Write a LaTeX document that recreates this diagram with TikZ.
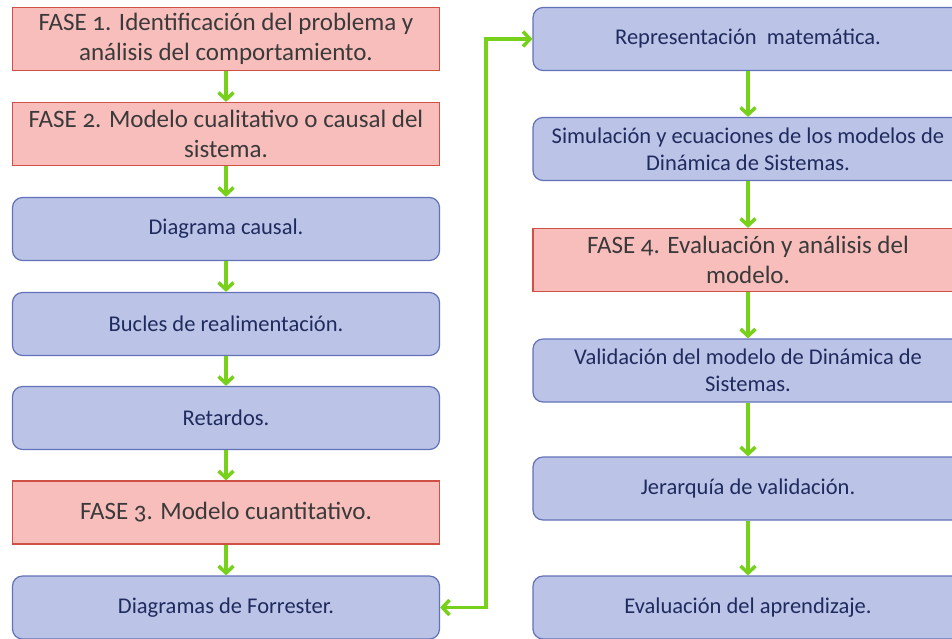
\documentclass[tikz,border=0pt]{standalone}
\usepackage{fontspec}
\setmainfont{Carlito}[Numbers=OldStyle]
\usetikzlibrary{arrows.meta}
\definecolor{redfill}{HTML}{F8BEBC}
\definecolor{redline}{HTML}{D05045}
\definecolor{bluefill}{HTML}{BBC3E6}
\definecolor{blueline}{HTML}{6272B8}
\definecolor{grn}{HTML}{77D11B}
\definecolor{redtext}{HTML}{3A3A3A}
\definecolor{bluetext}{HTML}{1F2B5E}
\begin{document}
\begin{tikzpicture}[x=1pt,y=-1pt,
  base/.style={line width=1.2pt, minimum height=63pt, align=center, inner sep=1pt},
  phase/.style={base, draw=redline, fill=redfill, text=redtext, font=\fontsize{25}{30}\selectfont},
  task/.style={base, draw=blueline, fill=bluefill, text=bluetext, rounded corners=10pt, font=\fontsize{22.5}{27}\selectfont},
  lcol/.style={minimum width=427pt},
  rcol/.style={minimum width=430pt},
  flow/.style={draw=grn, line width=3.5pt, -{Straight Barb[length=7pt,width=15pt]}},
  biflow/.style={draw=grn, line width=3.5pt, {Straight Barb[length=7pt,width=15pt]}-{Straight Barb[length=7pt,width=15pt]}}
]
\clip (0,0) rectangle (952,638);
% left column
\node[phase,lcol] (f1) at (226,39) {FASE 1. Identificación del problema y\\análisis del comportamiento.};
\node[phase,lcol] (f2) at (226,134) {FASE 2. Modelo cualitativo o causal del\\sistema.};
\node[task,lcol] (dc) at (226,229) {Diagrama causal.};
\node[task,lcol] (br) at (226,324) {Bucles de realimentación.};
\node[task,lcol] (rt) at (226,418) {Retardos.};
\node[phase,lcol] (f3) at (226,512.5) {FASE 3. Modelo cuantitativo.};
\node[task,lcol] (df) at (226,607.5) {Diagramas de Forrester.};
% right column
\node[task,rcol] (rm) at (748,39) {Representación\ \ matemática.};
\node[task,rcol] (si) at (748,149) {Simulación y ecuaciones de los modelos de\\Dinámica de Sistemas.};
\node[phase,rcol] (f4) at (748,260) {FASE 4. Evaluación y análisis del\\modelo.};
\node[task,rcol] (va) at (748,370.5) {Validación del modelo de Dinámica de\\Sistemas.};
\node[task,rcol] (je) at (748,488.5) {Jerarquía de validación.};
\node[task,rcol] (ea) at (748,607.5) {Evaluación del aprendizaje.};
% arrows
\draw[flow] (f1) -- (f2);
\draw[flow] (f2) -- (dc);
\draw[flow] (dc) -- (br);
\draw[flow] (br) -- (rt);
\draw[flow] (rt) -- (f3);
\draw[flow] (f3) -- (df);
\draw[flow] (rm) -- (si);
\draw[flow] (si) -- (f4);
\draw[flow] (f4) -- (va);
\draw[flow] (va) -- (je);
\draw[flow] (je) -- (ea);
\draw[biflow] (df.east) -- ++(46,0) |- (rm.west);
\end{tikzpicture}
\end{document}
